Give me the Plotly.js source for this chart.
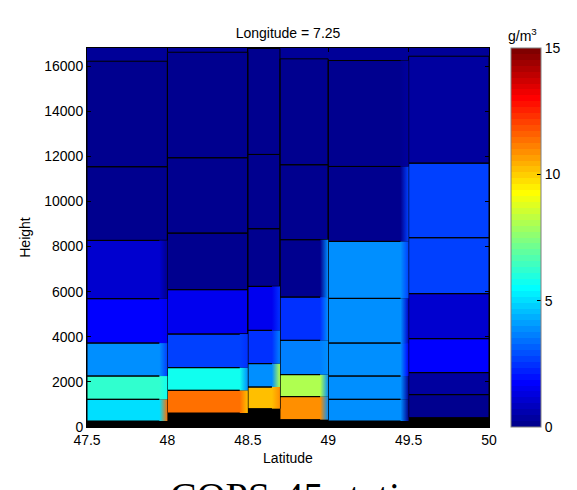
<!DOCTYPE html>
<html><head><meta charset="utf-8">
<script src="https://cdn.plot.ly/plotly-3.0.1.min.js"></script>
<style>html,body{margin:0;padding:0;background:#fff;} #chart{width:577px;height:490px;}</style>
</head><body><div id="chart"></div>
<script>
// Column edges (latitude)
const latEdges = [47.5, 48.0, 48.5, 48.7, 49.0, 49.5, 50.0];
// Layer boundaries (height, m) and values (g/m^3) for each column, bottom to top
const col1Heights = [266, 1227, 2259, 3721, 5688, 8271, 11536, 16214];
const col1Values  = [5.0, 6.2, 3.9, 1.75, 1.05, 0.2, 0.1];
const col2Heights = [620, 1626, 2631, 4120, 6087, 8594, 11934, 16612];
const col2Values  = [11.35, 5.7, 2.7, 1.5, 0.2, 0.1, 0.05];
const col3Heights = [815, 1772, 2809, 4284, 6233, 8789, 12081, 16780];
const col3Values  = [10.2, 3.9, 2.45, 1.5, 0.2, 0.1, 0.05];
const col4Heights = [328, 1347, 2321, 3841, 5759, 8302, 11624, 16320];
const col4Values  = [10.9, 8.1, 3.6, 2.45, 0.2, 0.1, 0.05];
const col5Heights = [266, 1227, 2259, 3721, 5701, 8227, 11549, 16245];
const col5Values  = [3.9, 3.9, 3.9, 3.9, 3.9, 0.15, 0.05];
const col6Heights = [416, 1435, 2410, 3916, 5910, 8390, 11695, 16435];
const col6Values  = [0.2, 0.3, 1.75, 1.05, 2.7, 2.7, 0.3];
const xTicks = [47.5, 48, 48.5, 49, 49.5, 50];
const xTickText = ['47.5', '48', '48.5', '49', '49.5', '50'];
const yTicks = [0, 2000, 4000, 6000, 8000, 10000, 12000, 14000, 16000];
const yTickText = ['0', '2000', '4000', '6000', '8000', '10000', '12000', '14000', '16000'];
const cbTicks = [0, 5, 10, 15];
const cMin = 0, cMax = 15;
const blendWidth = 0.05; // width of the interpolated band at a column's right edge (deg)

// MATLAB jet(64), stepped colorscale
function jetRow(i){ // i = 1..64
  let r, g, b;
  r = i <= 24 ? 0 : i <= 40 ? (i-24)/16 : i <= 56 ? 1 : 1-(i-56)/16;
  g = i <= 8 ? 0 : i <= 24 ? (i-8)/16 : i <= 40 ? 1 : i <= 56 ? 1-(i-40)/16 : 0;
  b = i <= 8 ? 0.5+i/16 : i <= 24 ? 1 : i <= 40 ? 1-(i-24)/16 : 0;
  return 'rgb(' + Math.round(r*255) + ',' + Math.round(g*255) + ',' + Math.round(b*255) + ')';
}
function valueColor(v){
  const k = Math.min(63, Math.max(0, Math.floor((v - cMin)/(cMax - cMin)*64)));
  return jetRow(k+1);
}
const jetScale = [];
for (let k = 0; k < 64; k++) {
  const c = jetRow(k+1);
  jetScale.push([k/64, c]);
  jetScale.push([(k+1)/64, c]);
}

const columns = [[col1Heights, col1Values], [col2Heights, col2Values], [col3Heights, col3Values],
                 [col4Heights, col4Values], [col5Heights, col5Values], [col6Heights, col6Values]];
const cx = [], cw = [], cbase = [], cy = [], cval = [];
const tx = [], tw = [], ty = [];
const blends = [];
columns.forEach(function(col, i){
  const h = col[0], v = col[1];
  const x0 = latEdges[i], x1 = latEdges[i+1];
  for (let j = 0; j < v.length; j++) {
    cx.push((x0+x1)/2); cw.push(x1-x0); cbase.push(h[j]); cy.push(h[j+1]-h[j]); cval.push(v[j]);
    if (i < columns.length - 1) {
      const nv = columns[i+1][1][j];
      if (valueColor(nv) !== valueColor(v[j])) {
        blends.push({type:'scatter', mode:'lines', line:{width:0}, hoverinfo:'skip',
          x:[x1-blendWidth, x1, x1, x1-blendWidth, x1-blendWidth],
          y:[h[j], h[j], h[j+1], h[j+1], h[j]], fill:'toself',
          fillgradient:{type:'horizontal', colorscale:[[0, valueColor(v[j])], [1, valueColor(nv)]]}});
      }
    }
  }
  tx.push((x0+x1)/2); tw.push(x1-x0); ty.push(h[0]);
});

const plotL = 87, plotR = 491, plotT = 47.5, plotB = 426.7;
const pw = plotR - plotL, ph = plotB - plotT;
function px2x(p){ return (p - plotL)/pw; }
function px2y(p){ return (plotB - p)/ph; }
const FONT = 'Liberation Sans, Arial, sans-serif';

const traces = [
  {type:'bar', x:tx, y:ty, width:tw, base:0, marker:{color:'#000000', line:{width:0}}, hoverinfo:'skip'},
  {type:'bar', x:cx, y:cy, base:cbase, width:cw, hoverinfo:'skip',
   marker:{color:cval, colorscale:jetScale, cmin:cMin, cmax:cMax, showscale:true,
     line:{width:0},
     colorbar:{x:px2x(513), xanchor:'left', xpad:0, ypad:0, y:0.5, yanchor:'middle',
       len:1, lenmode:'fraction', thickness:30, thicknessmode:'pixels',
       outlinecolor:'#808080', outlinewidth:1, tickvals:cbTicks, ticks:'inside', ticklen:4,
       tickcolor:'#000', tickfont:{size:14, family:FONT, color:'#000'}}}}
].concat(blends).concat([
  {type:'bar', x:cx, y:cy, base:cbase, width:cw, hoverinfo:'skip',
   marker:{color:'rgba(0,0,0,0)', line:{color:'#000000', width:1}}}
]);

const layout = {
  width:577, height:490,
  margin:{l:plotL, r:577-plotR, t:plotT, b:490-plotB, pad:0},
  paper_bgcolor:'#ffffff', plot_bgcolor:'#000098',
  barmode:'overlay', bargap:0, showlegend:false,
  font:{family:FONT, size:14, color:'#000'},
  title:{text:'Longitude = 7.25', x:px2x(289), xref:'paper', xanchor:'center',
         y:1-33/490, yref:'container', yanchor:'middle', font:{size:14}},
  xaxis:{range:[47.5, 50], tickvals:xTicks, ticktext:xTickText, ticks:'inside', ticklen:4,
         tickcolor:'#000', tickfont:{size:14}, showline:true, linecolor:'#000', linewidth:1, mirror:'ticks',
         showgrid:false, zeroline:false, title:{text:'Latitude', standoff:6, font:{size:14}}},
  yaxis:{range:[0, 16800], tickvals:yTicks, ticktext:yTickText, ticks:'inside', ticklen:4, tickcolor:'#000',
         tickfont:{size:14}, showline:true, linecolor:'#000', linewidth:1, mirror:'ticks', showgrid:false, zeroline:false,
         title:{text:'Height', standoff:10, font:{size:14}}},
  annotations:[
    {text:'g/m<sup>3</sup>', xref:'paper', yref:'paper', x:px2x(525), y:px2y(34),
     xanchor:'center', yanchor:'middle', showarrow:false, font:{size:14}},
    {text:'COPS-45 stations', xref:'paper', yref:'paper', x:px2x(168), y:px2y(472),
     xanchor:'left', yanchor:'top', showarrow:false,
     font:{family:'Liberation Serif, Times New Roman, serif', size:40, color:'#000'}}
  ]
};

Plotly.newPlot('chart', traces, layout, {displayModeBar:false, staticPlot:true});
</script>
</body></html>
